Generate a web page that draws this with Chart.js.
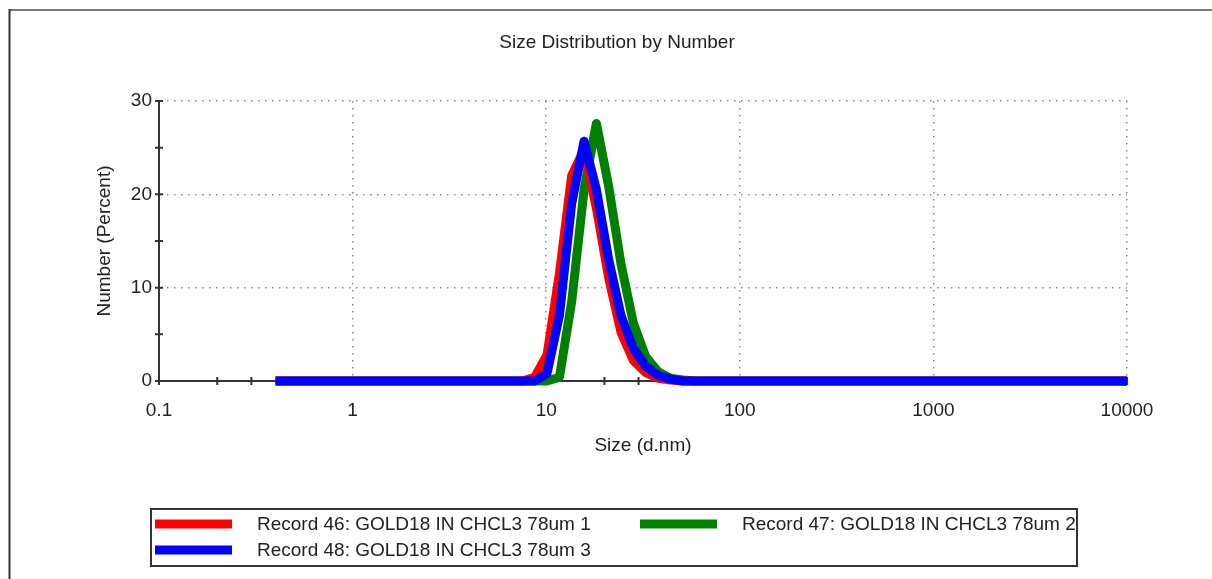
<!DOCTYPE html>
<html>
<head>
<meta charset="utf-8">
<title>Size Distribution by Number</title>
<script src="https://cdn.jsdelivr.net/npm/chart.js@4.4.1/dist/chart.umd.min.js"></script>
<style>
  html, body { margin: 0; padding: 0; background: #ffffff; }
  canvas { display: block; }
</style>
</head>
<body>
<canvas id="chart" width="1212" height="579"></canvas>
<script>
// Size classes (d.nm)
const sizes = [
  0.4, 0.4632, 0.5365, 0.6213, 0.7195, 0.8332, 0.9649, 1.117, 1.294, 1.499,
  1.736, 2.010, 2.328, 2.696, 3.122, 3.615, 4.187, 4.849, 5.615, 6.503,
  7.531, 8.721, 10.10, 11.70, 13.54, 15.69, 18.17, 21.04, 24.36, 28.21,
  32.67, 37.84, 43.82, 50.75, 58.77, 68.06, 78.82, 91.28, 105.7, 122.4,
  141.8, 164.2, 190.1, 220.2, 255.0, 295.3, 342.0, 396.1, 458.7, 531.2,
  615.1, 712.4, 825.0, 955.4, 1106, 1281, 1484, 1718, 1990, 2305,
  2669, 3091, 3580, 4145, 4801, 5560, 6439, 7456, 8635, 10000
];

// Number (%) per size class
const record46 = [
  0, 0, 0, 0, 0, 0, 0, 0, 0, 0,
  0, 0, 0, 0, 0, 0, 0, 0, 0, 0,
  0, 0.4, 2.8, 11.5, 22.0, 24.8, 18.5, 11.0, 5.2, 2.2,
  0.9, 0.3, 0.1, 0, 0, 0, 0, 0, 0, 0,
  0, 0, 0, 0, 0, 0, 0, 0, 0, 0,
  0, 0, 0, 0, 0, 0, 0, 0, 0, 0,
  0, 0, 0, 0, 0, 0, 0, 0, 0, 0
];
const record47 = [
  0, 0, 0, 0, 0, 0, 0, 0, 0, 0,
  0, 0, 0, 0, 0, 0, 0, 0, 0, 0,
  0, 0, 0, 0.4, 8.5, 20.5, 27.6, 20.8, 12.5, 6.2,
  2.6, 1.0, 0.3, 0.1, 0, 0, 0, 0, 0, 0,
  0, 0, 0, 0, 0, 0, 0, 0, 0, 0,
  0, 0, 0, 0, 0, 0, 0, 0, 0, 0,
  0, 0, 0, 0, 0, 0, 0, 0, 0, 0
];
const record48 = [
  0, 0, 0, 0, 0, 0, 0, 0, 0, 0,
  0, 0, 0, 0, 0, 0, 0, 0, 0, 0,
  0, 0, 0.8, 7.0, 19.0, 25.7, 20.5, 13.0, 7.0, 3.5,
  1.6, 0.6, 0.2, 0, 0, 0, 0, 0, 0, 0,
  0, 0, 0, 0, 0, 0, 0, 0, 0, 0,
  0, 0, 0, 0, 0, 0, 0, 0, 0, 0,
  0, 0, 0, 0, 0, 0, 0, 0, 0, 0
];

const seriesLabels = [
  'Record 46: GOLD18 IN CHCL3 78um 1',
  'Record 47: GOLD18 IN CHCL3 78um 2',
  'Record 48: GOLD18 IN CHCL3 78um 3'
];
const seriesColors = ['#ff0000', '#008000', '#0000ff'];

const xTickValues = [0.1, 0.2, 0.3, 1, 2, 3, 10, 20, 30, 100, 200, 300, 1000, 2000, 3000, 10000];
const xMajorTicks = [0.1, 1, 10, 100, 1000, 10000];
const yTickValues = [0, 5, 10, 15, 20, 25, 30];
const yMajorTicks = [0, 10, 20, 30];

const chartTitle = 'Size Distribution by Number';
const xTitle = 'Size (d.nm)';
const yTitle = 'Number (Percent)';

const FONT = "'Liberation Sans', Arial, sans-serif";
const TEXT = '#222222';

function toPoints(values) {
  return values.map((v, i) => ({ x: sizes[i], y: v }));
}

const seriesValues = [record46, record47, record48];
// blue on top, then red, green underneath
const drawOrder = [1, 2, 0];

const datasets = seriesValues.map((vals, i) => ({
  label: seriesLabels[i],
  data: toPoints(vals),
  borderColor: seriesColors[i],
  backgroundColor: seriesColors[i],
  order: drawOrder[i],
  clip: false
}));

const decor = {
  id: 'decor',
  beforeDraw(chart) {
    const ctx = chart.ctx;
    ctx.save();
    // page frame
    ctx.strokeStyle = '#777777';
    ctx.lineWidth = 2;
    ctx.beginPath();
    ctx.moveTo(9, 10);
    ctx.lineTo(1212, 10);
    ctx.stroke();
    ctx.strokeStyle = '#333333';
    ctx.beginPath();
    ctx.moveTo(9.5, 9);
    ctx.lineTo(9.5, 579);
    ctx.stroke();
    ctx.restore();
  },
  beforeDatasetsDraw(chart) {
    const ctx = chart.ctx;
    const xs = chart.scales.x, ys = chart.scales.y;
    const axisY = ys.getPixelForValue(0);
    const axisX = xs.getPixelForValue(0.1);
    ctx.save();
    ctx.strokeStyle = '#333333';
    ctx.lineWidth = 2;
    ctx.beginPath();
    xs.ticks.forEach(t => {
      const px = xs.getPixelForValue(t.value);
      ctx.moveTo(px, axisY - 4);
      ctx.lineTo(px, axisY + 4);
    });
    ys.ticks.forEach(t => {
      const py = ys.getPixelForValue(t.value);
      ctx.moveTo(axisX - 4, py);
      ctx.lineTo(axisX + 4, py);
    });
    ctx.stroke();
    ctx.restore();
  },
  afterDraw(chart) {
    const ctx = chart.ctx;
    const area = chart.chartArea;
    ctx.save();
    ctx.fillStyle = TEXT;
    ctx.textAlign = 'center';
    ctx.textBaseline = 'middle';

    ctx.font = '19px ' + FONT;
    ctx.fillText(chartTitle, 617, 43);

    ctx.fillText(xTitle, (area.left + area.right) / 2, 446);

    ctx.save();
    ctx.translate(105, (area.top + area.bottom) / 2);
    ctx.rotate(-Math.PI / 2);
    ctx.fillText(yTitle, 0, 0);
    ctx.restore();

    // legend box
    ctx.strokeStyle = '#333333';
    ctx.lineWidth = 2;
    ctx.strokeRect(151, 509, 926, 57);

    const colX = [155, 640];
    const rowY = [524, 550];
    ctx.textAlign = 'left';
    chart.data.datasets.forEach((ds, i) => {
      const cx = colX[i % 2];
      const cy = rowY[Math.floor(i / 2)];
      ctx.strokeStyle = ds.borderColor;
      ctx.lineWidth = 9;
      ctx.lineCap = 'butt';
      ctx.beginPath();
      ctx.moveTo(cx, cy);
      ctx.lineTo(cx + 77, cy);
      ctx.stroke();
      ctx.fillStyle = TEXT;
      ctx.fillText(ds.label, cx + 102, cy + 1);
    });
    ctx.restore();
  }
};

new Chart(document.getElementById('chart'), {
  type: 'line',
  data: { datasets },
  plugins: [decor],
  options: {
    responsive: false,
    animation: false,
    devicePixelRatio: 1,
    layout: { padding: { left: 0, right: 85, top: 101, bottom: 158 } },
    plugins: {
      legend: { display: false },
      title: { display: false },
      tooltip: { enabled: false }
    },
    elements: {
      point: { radius: 0, hoverRadius: 0 },
      line: { tension: 0, borderWidth: 9, borderCapStyle: 'butt', borderJoinStyle: 'round', fill: false }
    },
    scales: {
      x: {
        type: 'logarithmic',
        min: 0.1,
        max: 10000,
        afterBuildTicks: s => { s.ticks = xTickValues.map(v => ({ value: v })); },
        afterFit: s => { s.height = 40; },
        ticks: {
          autoSkip: false,
          maxRotation: 0,
          minRotation: 0,
          padding: 18,
          color: TEXT,
          font: { family: FONT, size: 19 },
          callback: v => (xMajorTicks.includes(v) ? String(v) : '')
        },
        grid: {
          drawTicks: false,
          lineWidth: 1.5,
          color: c => (c.tick && xMajorTicks.includes(c.tick.value) ? '#888888' : 'rgba(0,0,0,0)')
        },
        border: { display: true, color: '#333333', width: 2, dash: [1.5, 5.5] }
      },
      y: {
        type: 'linear',
        min: 0,
        max: 30,
        afterBuildTicks: s => { s.ticks = yTickValues.map(v => ({ value: v })); },
        afterFit: s => { s.width = 159; },
        ticks: {
          autoSkip: false,
          padding: 7,
          color: TEXT,
          font: { family: FONT, size: 19 },
          callback: v => (yMajorTicks.includes(v) ? String(v) : '')
        },
        grid: {
          drawTicks: false,
          lineWidth: 1.5,
          color: c => (c.tick && yMajorTicks.includes(c.tick.value) ? '#888888' : 'rgba(0,0,0,0)')
        },
        border: { display: true, color: '#333333', width: 2, dash: [1.5, 5.5] }
      }
    }
  }
});
</script>
</body>
</html>
